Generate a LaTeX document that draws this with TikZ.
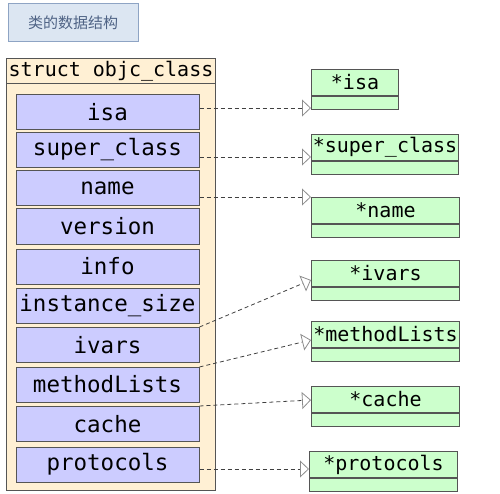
\documentclass[tikz,border=0pt]{standalone}
\usepackage{fontspec}
\setmonofont{DejaVu Sans Mono}
\newfontfamily\cjkfont{Noto Sans CJK SC}
\usetikzlibrary{arrows.meta,positioning}
\definecolor{fieldblue}{HTML}{CCCCFF}
\definecolor{structbg}{HTML}{FFF0D4}
\definecolor{ptrgreen}{HTML}{CCFFCC}
\definecolor{edgegray}{HTML}{555555}
\definecolor{titlebg}{HTML}{DCE6F2}
\definecolor{titleedge}{HTML}{8EA4C4}
\definecolor{titletext}{HTML}{4F6385}
\tikzset{
  box/.style={draw=edgegray,line width=1pt,inner sep=0pt},
  fld/.style={box,fill=fieldblue,minimum width=183pt,minimum height=35pt,
              font=\ttfamily\fontsize{22.5}{24}\selectfont},
  ptrtop/.style={box,fill=ptrgreen,minimum height=26pt,anchor=north west,
                 font=\ttfamily\fontsize{20}{22}\selectfont},
  ptrbot/.style={box,fill=ptrgreen,minimum height=13pt,anchor=north west},
  ptrarr/.style={draw=black!75,line width=0.8pt,dash pattern=on 4pt off 3pt,
                 -{Triangle[open,length=9pt,width=17pt,color=black!45,line width=0.8pt]}},
}
\begin{document}
\begin{tikzpicture}[x=1pt,y=-1pt]
  \useasboundingbox (0,0) rectangle (500,494);
  % title
  \node[draw=titleedge,fill=titlebg,line width=1pt,minimum width=130pt,minimum height=38pt,
        font=\cjkfont\fontsize{15}{18}\selectfont,text=titletext] (title) at (73,23) {类的数据结构};
  % struct box
  \node[box,fill=structbg,minimum width=209pt,minimum height=432pt,anchor=north west] (cls) at (6,58) {};
  \node[box,fill=structbg,minimum width=209pt,minimum height=25pt,anchor=north west,
        font=\ttfamily\fontsize{20}{22}\selectfont] (hdr) at (cls.north west) {struct objc\_class};
  \foreach \lbl/\yc [count=\j] in {isa/112.5,super\_class/150,name/188.5,version/226.5,info/266.5,
      instance\_size/305.5,ivars/345,methodLists/384.5,cache/424,protocols/464.5}{
    \node[fld] (f\j) at (107.5,\yc) {\lbl};
  }
  % pointer targets
  \foreach \lbl/\x/\y/\w [count=\j] in {*isa/311/69/87,*super\_class/311/134/147,*name/311/197/148,
      *ivars/311/260/148,*methodLists/311/321/148,*cache/311/386/148,*protocols/309/451/148}{
    \node[ptrtop,minimum width=\w pt] (p\j) at (\x,\y) {\lbl};
    \node[ptrbot,minimum width=\w pt] (q\j) at (p\j.south west) {};
  }
  % links
  \foreach \f/\ys/\p/\ye in {1/108/1/108,2/157/2/157,3/197/3/197,7/327/4/280,
      8/367/5/340,9/406/6/400,10/469/7/469}{
    \draw[ptrarr] (f\f.east |- 0,\ys) -- (p\p.west |- 0,\ye);
  }
\end{tikzpicture}
\end{document}
